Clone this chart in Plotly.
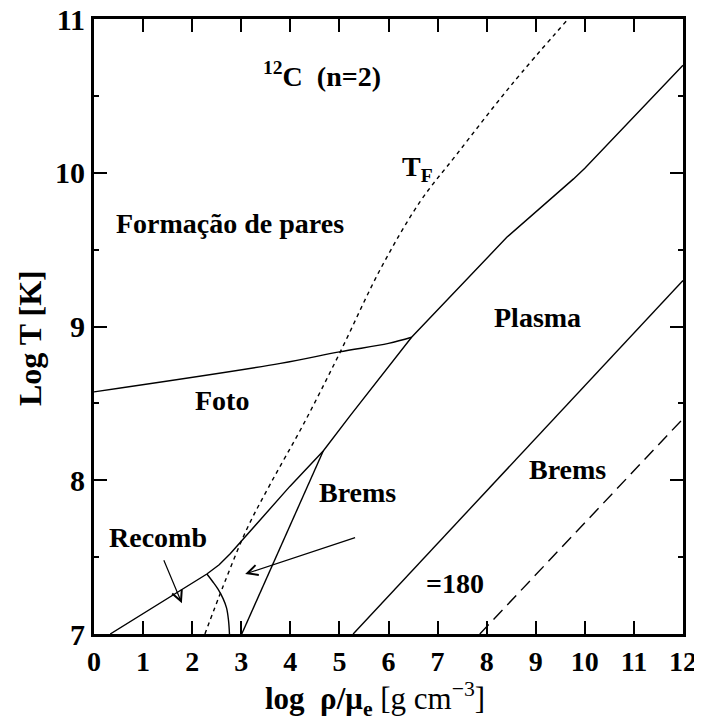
import plotly.graph_objects as go

# ---------------- data ----------------
# Recombination / plasma boundary (solid)
main_x = [0.33, 1.3, 2.30, 2.55, 2.77, 3.38, 3.99, 4.67, 5.22, 6.47, 7.46, 7.86, 8.41, 9.77, 10.0, 12.0]
main_y = [7.00, 7.19, 7.39, 7.45, 7.52, 7.74, 7.96, 8.19, 8.42, 8.93, 9.26, 9.40, 9.58, 9.96, 10.03, 10.70]

# Photo-neutrino boundary (solid)
foto_x = [0.0, 3.8, 5.0, 6.0, 6.47]
foto_y = [8.575, 8.76, 8.835, 8.89, 8.93]

# Brems left edge (solid, from triple point down to axis)
brems_x = [4.67, 3.01]
brems_y = [8.19, 7.00]

# Recomb / brems arc
arc_x = [2.30, 2.42, 2.53, 2.63, 2.70, 2.74, 2.76]
arc_y = [7.39, 7.34, 7.29, 7.23, 7.17, 7.09, 7.00]

# Fermi temperature (dotted)
tf_x = [2.26, 2.63, 3.11, 3.6, 4.26, 5.01, 5.83, 6.64, 7.39, 8.5, 9.66]
tf_y = [7.00, 7.31, 7.68, 7.98, 8.36, 8.83, 9.37, 9.81, 10.12, 10.57, 11.0]

# Gamma = 180 line (solid)
g180_x = [5.28, 12.0]
g180_y = [7.00, 9.30]

# dashed line
dash_x = [7.86, 12.0]
dash_y = [7.00, 8.40]

x_ticks = list(range(0, 13))
y_ticks = [7, 8, 9, 10, 11]

labels = [
    ("<sup>12</sup>C  (n=2)", 4.65, 10.64),
    ("T<sub>F</sub>", 6.6, 10.03),
    ("Formação de pares", 2.77, 9.67),
    ("Foto", 2.61, 8.52),
    ("Plasma", 9.03, 9.06),
    ("Brems", 9.64, 8.07),
    ("Brems", 5.36, 7.92),
    ("Recomb", 1.30, 7.63),
    ("=180", 7.36, 7.33),
]

# arrows: (tail_x, tail_y, head_x, head_y)
arrows = [
    (1.41, 7.49, 1.79, 7.20),
    (5.35, 7.63, 3.08, 7.39),
]

x_title = "<b>log  ρ/μ<sub>e</sub></b> [g cm<sup>−3</sup>]"
y_title = "<b>Log T [K]</b>"

FONT = "Liberation Serif, Times New Roman, serif"

fig = go.Figure()
line = dict(color="black", width=1.4)
fig.add_trace(go.Scatter(x=main_x, y=main_y, mode="lines", line=line))
fig.add_trace(go.Scatter(x=foto_x, y=foto_y, mode="lines", line=dict(color="black", width=1.4, shape="spline")))
fig.add_trace(go.Scatter(x=brems_x, y=brems_y, mode="lines", line=line))
fig.add_trace(go.Scatter(x=arc_x, y=arc_y, mode="lines", line=dict(color="black", width=1.4, shape="spline")))
fig.add_trace(go.Scatter(x=tf_x, y=tf_y, mode="lines",
                         line=dict(color="black", width=1.4, dash="4px,4px", shape="spline")))
fig.add_trace(go.Scatter(x=g180_x, y=g180_y, mode="lines", line=line))
fig.add_trace(go.Scatter(x=dash_x, y=dash_y, mode="lines",
                         line=dict(color="black", width=1.4, dash="13px,7px")))

for txt, x, y in labels:
    fig.add_annotation(x=x, y=y, text="<b>%s</b>" % txt, showarrow=False,
                       xanchor="center", yanchor="middle",
                       font=dict(family=FONT, size=28, color="black"))

for tx, ty, hx, hy in arrows:
    fig.add_annotation(x=hx, y=hy, ax=tx, ay=ty, xref="x", yref="y", axref="x", ayref="y",
                       text="", showarrow=True, arrowhead=5, arrowsize=1.7,
                       arrowwidth=1.2, arrowcolor="black", standoff=0)

# axis titles
fig.add_annotation(x=0.477, y=-0.105, xref="paper", yref="paper", text=x_title,
                   xanchor="center", yanchor="middle",
                   showarrow=False, font=dict(family=FONT, size=31, color="black"))
fig.add_annotation(x=-0.109, y=0.481, xref="paper", yref="paper", text=y_title, textangle=-90,
                   xanchor="center", yanchor="middle",
                   showarrow=False, font=dict(family=FONT, size=32, color="black"))

fig.update_layout(
    width=694, height=718,
    margin=dict(l=86, r=19, t=11, b=92, autoexpand=False),
    paper_bgcolor="white", plot_bgcolor="white",
    showlegend=False,
    font=dict(family=FONT, color="black"),
)
fig.update_xaxes(
    range=[0, 12], tickvals=x_ticks, ticktext=["<b>%d</b>" % v for v in x_ticks],
    ticks="inside", ticklen=13, tickwidth=2, tickcolor="black",
    showline=True, linewidth=3, linecolor="black", mirror="ticks",
    showgrid=False, zeroline=False, automargin=False, ticklabeloverflow="allow",
    tickfont=dict(family=FONT, size=28, color="black"),
)
fig.update_yaxes(
    range=[7, 11], tickvals=y_ticks, ticktext=["<b>%d</b>" % v for v in y_ticks],
    ticks="inside", ticklen=13, tickwidth=2, tickcolor="black",
    minor=dict(dtick=0.5, ticks="inside", ticklen=5, tickwidth=2, tickcolor="black"),
    showline=True, linewidth=3, linecolor="black", mirror="ticks",
    showgrid=False, zeroline=False, automargin=False, ticklabeloverflow="allow",
    tickfont=dict(family=FONT, size=30, color="black"),
)

fig.write_html("out.html")
